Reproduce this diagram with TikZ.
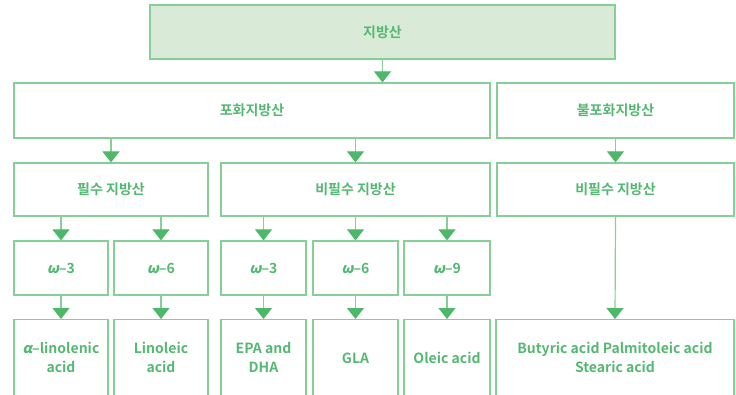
\documentclass[tikz,border=0pt]{standalone}
\usepackage{fontspec}
\setmainfont{Noto Sans CJK KR}[BoldFont={* Bold}]
\newfontfamily\greekslant{Noto Sans CJK KR}[FakeSlant=0.2]
\usetikzlibrary{arrows.meta}
\definecolor{bordergreen}{HTML}{86CF97}
\definecolor{arrowgreen}{HTML}{4DB86A}
\definecolor{textgreen}{HTML}{55B872}
\definecolor{topfill}{HTML}{D9EBD7}
\newcommand{\omg}{{\greekslant ω}}
\newcommand{\alp}{{\greekslant α}}
\begin{document}
\begin{tikzpicture}[x=1pt,y=-1pt,
  box/.style={draw=bordergreen,line width=1.2pt,rectangle,inner sep=0pt,
    text=textgreen,font=\fontsize{14}{19}\selectfont\bfseries,align=center},
  lbl/.style={text=textgreen,font=\fontsize{14}{19}\selectfont\bfseries,align=center,inner sep=0pt},
  arr/.style={draw=bordergreen,line width=1.2pt,
    -{Triangle[width=17pt,length=11pt,color=arrowgreen]}}]
\useasboundingbox (0,0) rectangle (736,395);
% top
\node[box,fill=topfill,minimum width=465pt,minimum height=54pt] (top) at (382.5,32) {지방산};
% row 2
\node[box,minimum width=476pt,minimum height=55pt] (sat) at (252,110.5) {포화지방산};
\node[box,minimum width=237pt,minimum height=55pt] (unsat) at (615.5,110.5) {불포화지방산};
% row 3
\node[box,minimum width=194pt,minimum height=53pt] (ess) at (111,189.5) {필수 지방산};
\node[box,minimum width=269pt,minimum height=53pt] (ness) at (355.5,189.5) {비필수 지방산};
\node[box,minimum width=237pt,minimum height=53pt] (ness2) at (615.5,189.5) {비필수 지방산};
% row 4
\node[box,minimum width=94pt,minimum height=54pt] (o3a) at (61,268) {\omg–3};
\node[box,minimum width=94pt,minimum height=54pt] (o6a) at (161,268) {\omg–6};
\node[box,minimum width=85pt,minimum height=54pt] (o3b) at (263.5,268) {\omg–3};
\node[box,minimum width=85pt,minimum height=54pt] (o6b) at (355.5,268) {\omg–6};
\node[box,minimum width=86pt,minimum height=54pt] (o9b) at (447,268) {\omg–9};
% row 5 (cut off at bottom)
\node[box,minimum width=94pt,minimum height=100pt,anchor=north] (ala) at (61,319) {};
\node[box,minimum width=94pt,minimum height=100pt,anchor=north] (la) at (161,319) {};
\node[box,minimum width=85pt,minimum height=100pt,anchor=north] (epa) at (263.5,319) {};
\node[box,minimum width=85pt,minimum height=100pt,anchor=north] (gla) at (355.5,319) {};
\node[box,minimum width=86pt,minimum height=100pt,anchor=north] (ola) at (447,319) {};
\node[box,minimum width=238pt,minimum height=100pt,anchor=north] (bpa) at (615,319) {};
\node[lbl] (t1) at (61,357.5) {\alp–linolenic\\acid};
\node[lbl] (t2) at (161,357.5) {Linoleic\\acid};
\node[lbl] (t3) at (263.5,357.5) {EPA and\\DHA};
\node[lbl] (t4) at (355.5,358) {GLA};
\node[lbl] (t5) at (447,358) {Oleic acid};
\node[lbl] (t6) at (615,357.5) {Butyric acid Palmitoleic acid\\Stearic acid};
% arrows
\draw[arr] (top.south) -- (top.south |- sat.north);
\draw[arr] (ess |- sat.south) -- (ess.north);
\draw[arr] (ness |- sat.south) -- (ness.north);
\draw[arr] (unsat.south) -- (ness2.north);
\draw[arr] (o3a |- ess.south) -- (o3a.north);
\draw[arr] (o6a |- ess.south) -- (o6a.north);
\draw[arr] (o3b |- ness.south) -- (o3b.north);
\draw[arr] (o6b |- ness.south) -- (o6b.north);
\draw[arr] (o9b |- ness.south) -- (o9b.north);
\draw[arr] (o3a.south) -- (ala.north);
\draw[arr] (o6a.south) -- (la.north);
\draw[arr] (o3b.south) -- (epa.north);
\draw[arr] (o6b.south) -- (gla.north);
\draw[arr] (o9b.south) -- (ola.north);
\draw[arr] (ness2.south) -- (bpa.north);
\end{tikzpicture}
\end{document}
